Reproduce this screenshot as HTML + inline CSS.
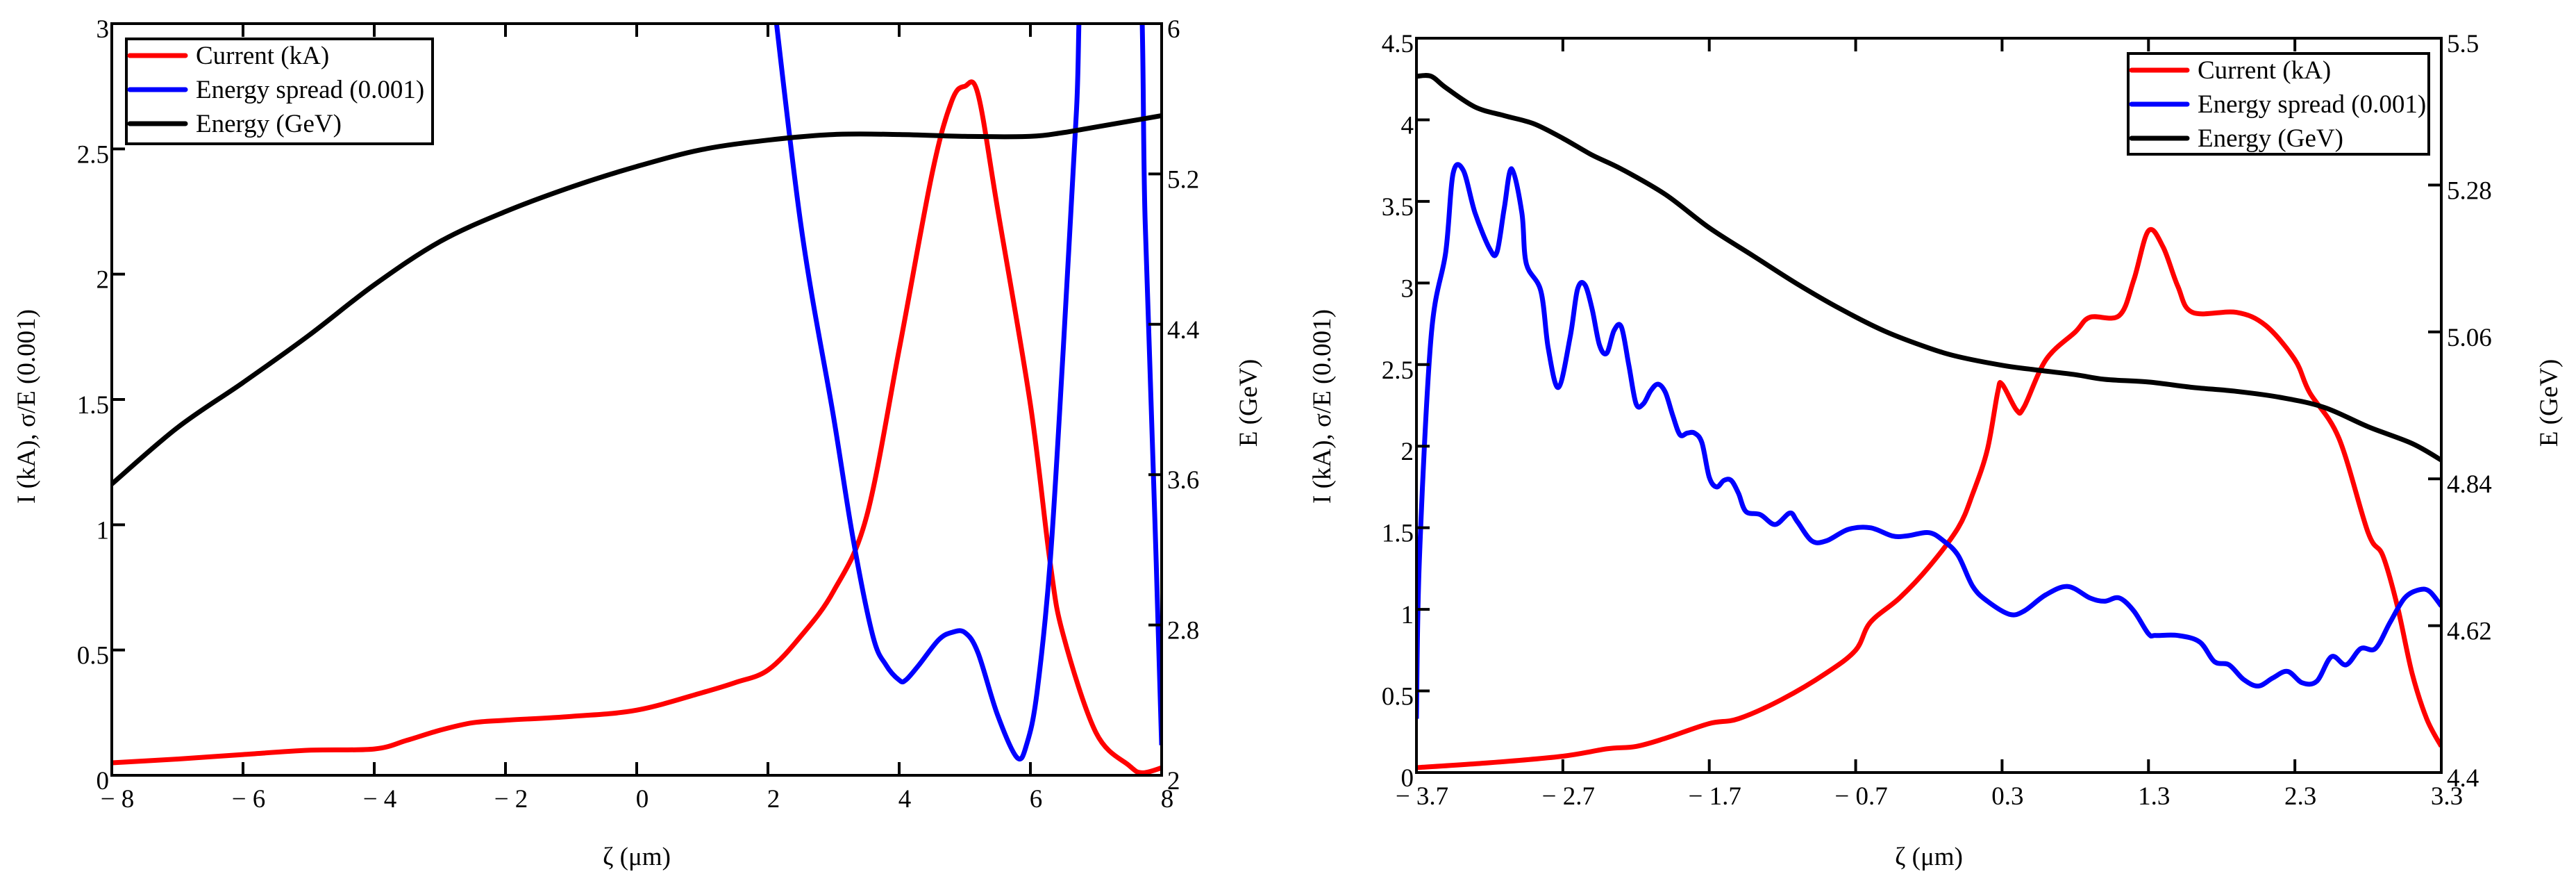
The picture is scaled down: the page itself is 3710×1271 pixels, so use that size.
<!DOCTYPE html>
<html><head><meta charset="utf-8"><style>
html,body{margin:0;padding:0;background:#fff;}
svg{display:block;}
text{font-family:"Liberation Serif",serif;font-size:37px;fill:#000;}
</style></head><body>
<svg id="root" width="3710" height="1271" viewBox="0 0 3710 1271" xmlns="http://www.w3.org/2000/svg">
<defs>
<clipPath id="clipL"><rect x="161" y="34" width="1512" height="1082"/></clipPath>
<clipPath id="clipR"><rect x="2040" y="55" width="1476" height="1057"/></clipPath>
</defs>
<g id="left"></g>
<g id="right"></g>
</svg>
<script>
// ---------- Left chart data ----------
const L_curX = [-8,-7,-6,-5,-4,-3.5,-3,-2.5,-2,-1,0,1,1.5,2,2.5,3,3.5,4,4.5,4.8,5,5.2,5.5,6,6.3,6.5,7,7.5,7.7,8];
const L_curY = [0.05,0.065,0.083,0.10,0.105,0.14,0.18,0.21,0.22,0.235,0.26,0.33,0.37,0.42,0.555,0.735,1.03,1.7,2.4,2.69,2.75,2.72,2.26,1.48,0.85,0.56,0.17,0.04,0.01,0.03];
const L_sprX = [2.0,2.5,3.0,3.3,3.6,3.8,4.0,4.1,4.3,4.6,4.8,5.0,5.2,5.5,5.8,5.95,6.1,6.3,6.5,6.7,6.85,7.6,7.75,7.9,8.0];
const L_sprY = [3.3,2.2,1.43,0.94,0.555,0.44,0.38,0.38,0.44,0.54,0.57,0.57,0.49,0.24,0.07,0.13,0.33,0.85,1.7,2.64,3.3,3.4,2.2,1.0,0.12];
const L_enX = [-8,-7,-6,-5,-4,-3,-2,-1,0,1,2,3,4,5,6,6.5,7,8];
const L_enY = [3.55,3.85,4.09,4.34,4.61,4.84,5.0,5.13,5.24,5.33,5.38,5.41,5.41,5.40,5.40,5.42,5.45,5.51];
const L_xTicks = [-8,-6,-4,-2,0,2,4,6,8];
const L_xTickLabels = ["− 8","− 6","− 4","− 2","0","2","4","6","8"];
const L_yTicks = [0,0.5,1,1.5,2,2.5,3];
const L_yTickLabels = ["0","0.5","1","1.5","2","2.5","3"];
const L_y2Ticks = [2,2.8,3.6,4.4,5.2,6];
const L_y2TickLabels = ["2","2.8","3.6","4.4","5.2","6"];

// ---------- Right chart data ----------
const R_curX = [-3.7,-3.2,-2.7,-2.4,-2.2,-2.0,-1.7,-1.5,-1.2,-0.9,-0.7,-0.6,-0.4,-0.2,0,0.1,0.2,0.27,0.3,0.4,0.45,0.6,0.8,0.9,1.1,1.2,1.3,1.4,1.5,1.6,1.9,2.1,2.3,2.4,2.6,2.8,2.9,3.0,3.1,3.2,3.3];
const R_curY = [0.03,0.06,0.10,0.145,0.16,0.21,0.30,0.33,0.45,0.61,0.75,0.92,1.07,1.26,1.5,1.71,1.98,2.33,2.38,2.22,2.24,2.53,2.70,2.79,2.80,3.02,3.32,3.22,2.98,2.82,2.82,2.74,2.53,2.33,2.05,1.47,1.33,1.02,0.61,0.33,0.16];
const R_sprX = [-3.7,-3.68,-3.6,-3.5,-3.45,-3.38,-3.3,-3.2,-3.15,-3.1,-3.05,-2.98,-2.95,-2.85,-2.8,-2.73,-2.65,-2.6,-2.55,-2.5,-2.45,-2.4,-2.35,-2.3,-2.25,-2.2,-2.15,-2.1,-2.05,-2.0,-1.95,-1.9,-1.85,-1.8,-1.75,-1.7,-1.65,-1.6,-1.55,-1.5,-1.45,-1.35,-1.25,-1.15,-1.1,-1.0,-0.9,-0.75,-0.6,-0.45,-0.35,-0.2,-0.1,0.0,0.1,0.2,0.35,0.45,0.6,0.75,0.9,1.0,1.1,1.2,1.3,1.35,1.5,1.65,1.75,1.85,1.95,2.05,2.15,2.25,2.35,2.45,2.55,2.65,2.75,2.85,2.95,3.05,3.15,3.22,3.3];
const R_sprY = [0.33,1.3,2.67,3.19,3.67,3.69,3.43,3.21,3.19,3.46,3.7,3.43,3.12,2.95,2.6,2.36,2.67,2.96,2.99,2.84,2.62,2.57,2.71,2.73,2.5,2.26,2.26,2.34,2.38,2.33,2.19,2.07,2.08,2.08,2.02,1.81,1.75,1.79,1.79,1.71,1.6,1.58,1.52,1.59,1.54,1.42,1.42,1.49,1.5,1.45,1.45,1.47,1.42,1.33,1.14,1.05,0.97,0.99,1.09,1.14,1.07,1.05,1.07,0.99,0.85,0.84,0.84,0.8,0.68,0.66,0.57,0.53,0.58,0.62,0.55,0.56,0.71,0.66,0.76,0.76,0.92,1.07,1.12,1.11,1.02];
const R_enX = [-3.7,-3.6,-3.5,-3.3,-3.1,-2.9,-2.7,-2.5,-2.3,-2.0,-1.7,-1.4,-1.1,-0.8,-0.5,-0.2,0.0,0.3,0.5,0.8,1.0,1.3,1.6,1.9,2.2,2.5,2.8,3.1,3.3];
const R_enY = [5.443,5.443,5.426,5.397,5.384,5.372,5.35,5.325,5.304,5.266,5.216,5.174,5.132,5.094,5.061,5.036,5.023,5.01,5.004,4.996,4.989,4.985,4.977,4.971,4.962,4.947,4.918,4.893,4.868];
const R_xTicks = [-3.7,-2.7,-1.7,-0.7,0.3,1.3,2.3,3.3];
const R_xTickLabels = ["− 3.7","− 2.7","− 1.7","− 0.7","0.3","1.3","2.3","3.3"];
const R_yTicks = [0,0.5,1,1.5,2,2.5,3,3.5,4,4.5];
const R_yTickLabels = ["0","0.5","1","1.5","2","2.5","3","3.5","4","4.5"];
const R_y2Ticks = [4.4,4.62,4.84,5.06,5.28,5.5];
const R_y2TickLabels = ["4.4","4.62","4.84","5.06","5.28","5.5"];

const NS = "http://www.w3.org/2000/svg";
function mk(tag, attrs, parent){
  const e = document.createElementNS(NS, tag);
  for (const k in attrs) e.setAttribute(k, attrs[k]);
  parent.appendChild(e);
  return e;
}
function scale(d0,d1,p0,p1){ return v => p0 + (v-d0)/(d1-d0)*(p1-p0); }
function smoothPath(p){
  let d = "M"+p[0][0].toFixed(1)+","+p[0][1].toFixed(1);
  const t = 0.5/3;
  for (let i=0;i<p.length-1;i++){
    const p0 = p[i-1]||p[i], p1=p[i], p2=p[i+1], p3=p[i+2]||p[i+1];
    const c1x = p1[0]+(p2[0]-p0[0])*t, c1y = p1[1]+(p2[1]-p0[1])*t;
    const c2x = p2[0]-(p3[0]-p1[0])*t, c2y = p2[1]-(p3[1]-p1[1])*t;
    d += " C"+c1x.toFixed(1)+","+c1y.toFixed(1)+" "+c2x.toFixed(1)+","+c2y.toFixed(1)+" "+p2[0].toFixed(1)+","+p2[1].toFixed(1);
  }
  return d;
}

function drawChart(g, cfg){
  const {x0,x1,y0,y1,xd,yd,y2d,clip} = cfg;
  const sx = scale(xd[0],xd[1],x0,x1);
  const sy = scale(yd[0],yd[1],y1,y0);
  const sy2 = scale(y2d[0],y2d[1],y1,y0);
  const series = [
    {xs:cfg.curX, ys:cfg.curY, s:sy, c:"#ff0000", n:"current-line"},
    {xs:cfg.sprX, ys:cfg.sprY, s:sy, c:"#0000ff", n:"energy-spread-line"},
    {xs:cfg.enX, ys:cfg.enY, s:sy2, c:"#000000", n:"energy-line"}
  ];
  const sg = mk("g", {"clip-path":"url(#"+clip+")"}, g);
  
  
  series.forEach(se=>{
    const pts = se.xs.map((x,i)=>[sx(x), se.s(se.ys[i])]);
    const pl = mk("path", {d:smoothPath(pts), fill:"none", stroke:se.c, "stroke-width":7, "stroke-linejoin":"round"}, sg);
    
    
  });
  const fr = mk("rect", {x:x0,y:y0,width:x1-x0,height:y1-y0,fill:"none",stroke:"#000","stroke-width":4}, g);
  
  
  const T = 19;
  cfg.xTicks.forEach((v,i)=>{
    const x = sx(v);
    mk("line",{x1:x,y1:y1,x2:x,y2:y1-T,stroke:"#000","stroke-width":4},g);
    mk("line",{x1:x,y1:y0,x2:x,y2:y0+T,stroke:"#000","stroke-width":4},g);
    const t = mk("text",{x:x+8,y:y1+46,"text-anchor":"middle"},g);
    t.textContent = cfg.xTickLabels[i];
    
    
  });
  cfg.yTicks.forEach((v,i)=>{
    const y = sy(v);
    mk("line",{x1:x0,y1:y,x2:x0+T,y2:y,stroke:"#000","stroke-width":4},g);
    const t = mk("text",{x:x0-4,y:y+20,"text-anchor":"end"},g);
    t.textContent = cfg.yTickLabels[i];
    
    
  });
  cfg.y2Ticks.forEach((v,i)=>{
    const y = sy2(v);
    mk("line",{x1:x1,y1:y,x2:x1-T,y2:y,stroke:"#000","stroke-width":4},g);
    const t = mk("text",{x:x1+8,y:y+20,"text-anchor":"start"},g);
    t.textContent = cfg.y2TickLabels[i];
    
    
  });
  const xt = mk("text",{x:(x0+x1)/2,y:1245,"text-anchor":"middle"},g);
  xt.textContent = "ζ (μm)";
  
  
  const yt = mk("text",{x:0,y:0,"text-anchor":"middle",transform:"translate("+(cfg.ylx)+",585) rotate(-90)"},g);
  yt.textContent = "I (kA), σ/E (0.001)";
  
  
  const y2t = mk("text",{x:0,y:0,"text-anchor":"middle",transform:"translate("+(cfg.y2lx)+",580) rotate(-90)"},g);
  y2t.textContent = "E (GeV)";
  
  
  const lg = mk("g",{},g);
  
  
  const L = cfg.leg;
  mk("rect",{x:L.x,y:L.y,width:L.w,height:L.h,fill:"#fff",stroke:"#000","stroke-width":4},lg);
  const names = ["Current (kA)","Energy spread (0.001)","Energy (GeV)"];
  const cols = ["#ff0000","#0000ff","#000000"];
  names.forEach((n,i)=>{
    const yy = L.y + 24 + i*49;
    const ln = mk("line",{x1:L.x+5,y1:yy,x2:L.x+85,y2:yy,stroke:cols[i],"stroke-width":7,"stroke-linecap":"round"},lg);
    
    
    const t = mk("text",{x:L.x+100,y:yy+12},lg);
    t.textContent = n;
    
    
  });
}

drawChart(document.getElementById("left"), {
  x0:161,x1:1673,y0:34,y1:1116,xd:[-8,8],yd:[0,3],y2d:[2,6],clip:"clipL",
  curX:L_curX,curY:L_curY,sprX:L_sprX,sprY:L_sprY,enX:L_enX,enY:L_enY,
  xTicks:L_xTicks,xTickLabels:L_xTickLabels,yTicks:L_yTicks,yTickLabels:L_yTickLabels,
  y2Ticks:L_y2Ticks,y2TickLabels:L_y2TickLabels,ylx:50,y2lx:1810,
  leg:{x:182,y:56,w:441,h:151}
});
drawChart(document.getElementById("right"), {
  x0:2040,x1:3516,y0:55,y1:1112,xd:[-3.7,3.3],yd:[0,4.5],y2d:[4.4,5.5],clip:"clipR",
  curX:R_curX,curY:R_curY,sprX:R_sprX,sprY:R_sprY,enX:R_enX,enY:R_enY,
  xTicks:R_xTicks,xTickLabels:R_xTickLabels,yTicks:R_yTicks,yTickLabels:R_yTickLabels,
  y2Ticks:R_y2Ticks,y2TickLabels:R_y2TickLabels,ylx:1916,y2lx:3683,
  leg:{x:3065,y:77,w:433,h:145}
});
</script>
</body></html>
